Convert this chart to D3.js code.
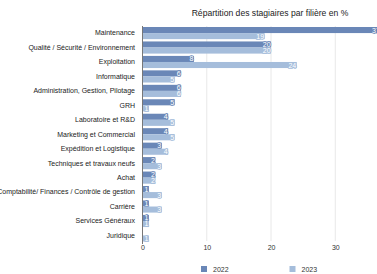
<!DOCTYPE html>
<html lang="fr">
<head>
<meta charset="UTF-8">
<title>Répartition des stagiaires</title>
<style>
    body { margin: 0; background: #fff; }
    svg { font-family: "Liberation Sans", Arial, sans-serif; }
    .cat { font-size: 7px; fill: #222; text-anchor: end; }
    .tick text { font-size: 7px; fill: #333; }
    .val { font-size: 7px; fill: #fff; stroke-width: 1.6px; paint-order: stroke; }
</style>
</head>
<body>
<script src="https://d3js.org/d3.v7.min.js"></script>
<script>
    const width = 377, height = 274
    const categories = ['Maintenance', 'Qualité / Sécurité / Environnement', 'Exploitation', 'Informatique',
        'Administration, Gestion, Pilotage', 'GRH', 'Laboratoire et R&D', 'Marketing et Commercial',
        'Expédition et Logistique', 'Techniques et travaux neufs', 'Achat',
        'Comptabilité/ Finances / Contrôle de gestion', 'Carrière', 'Services Généraux', 'Juridique']
    const values2022 = [37, 20, 8, 6, 6, 5, 4, 4, 3, 2, 2, 1, 1, 1, 0]
    const values2023 = [19, 20, 24, 5, 6, 1, 5, 5, 4, 3, 2, 3, 3, 1, 1]
    const seriesNames = ['2022', '2023']
    const xTicks = [0, 10, 20, 30]
    const colors = ['#6a87b7', '#a5bddb']

    const series = [values2022, values2023]
    const left = 142.5

    const svg = d3.select('body').append('svg')
        .attr('width', width)
        .attr('height', height)

    const x = d3.scaleLinear().domain([0, 30]).range([left, left + 192.8])
    const y = d3.scaleBand().domain(categories).range([27, 241.5]).paddingInner(0.16).paddingOuter(0.0)
    const y1 = d3.scaleBand().domain(seriesNames).range([0, y.bandwidth()])

    svg.append('text')
        .attr('x', 270).attr('y', 16)
        .attr('text-anchor', 'middle')
        .style('font-size', '8.6px')
        .style('fill', '#222')
        .text('Répartition des stagiaires par filière en %')

    // grid
    svg.append('g').selectAll('line')
        .data(xTicks.slice(1))
        .enter().append('line')
        .attr('x1', d => x(d)).attr('x2', d => x(d))
        .attr('y1', 26).attr('y2', 241)
        .attr('stroke', '#e2e2e2').attr('stroke-width', 0.8)

    const axis = svg.append('g')
        .attr('transform', 'translate(0,241)')
        .call(d3.axisBottom(x).tickValues(xTicks).tickSize(0).tickPadding(4))
    axis.select('.domain').remove()
    axis.selectAll('text').style('font-family', '"Liberation Sans", Arial, sans-serif')

    const groups = svg.append('g').selectAll('g')
        .data(categories)
        .enter().append('g')
        .attr('transform', d => 'translate(0,' + y(d) + ')')

    series.forEach((vals, s) => {
        groups.append('rect')
            .attr('x', x(0))
            .attr('y', y1(seriesNames[s]))
            .attr('width', (d, i) => x(vals[i]) - x(0))
            .attr('height', y1.bandwidth())
            .attr('fill', colors[s])
        groups.filter((d, i) => vals[i] > 0).append('text')
            .attr('class', 'val')
            .attr('x', (d, i) => Math.max(x(vals[i]) - 0.5, x(0) + 5))
            .attr('y', y1(seriesNames[s]) + y1.bandwidth() / 2 + 2.5)
            .attr('text-anchor', 'end')
            .attr('stroke', colors[s])
            .text((d, i) => vals[i])
    })

    svg.append('g').selectAll('text')
        .data(categories)
        .enter().append('text')
        .attr('class', 'cat')
        .attr('x', 135)
        .attr('y', d => y(d) + y.bandwidth() / 2 + 2.4)
        .text(d => d)

    svg.append('line')
        .attr('x1', x(0)).attr('x2', x(0))
        .attr('y1', 26).attr('y2', 244)
        .attr('stroke', '#777').attr('stroke-width', 1)

    const legend = svg.append('g').selectAll('g')
        .data(seriesNames)
        .enter().append('g')
        .attr('transform', (d, i) => 'translate(' + (201 + i * 88.5) + ',266)')
    legend.append('rect')
        .attr('width', 6).attr('height', 6)
        .attr('fill', (d, i) => colors[i])
    legend.append('text')
        .attr('x', 12).attr('y', 5.6)
        .style('font-size', '7px').style('fill', '#333')
        .text(d => d)
</script>
</body>
</html>
